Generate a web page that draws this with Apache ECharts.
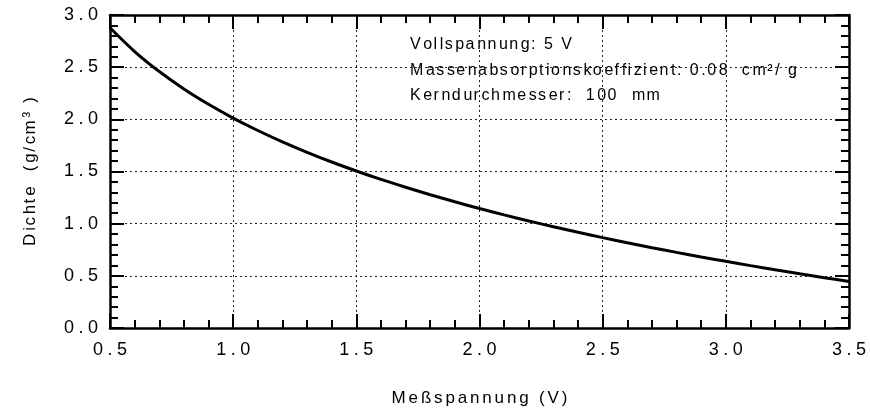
<!DOCTYPE html>
<html>
<head>
<meta charset="utf-8">
<script src="https://cdn.jsdelivr.net/npm/echarts@6/dist/echarts.min.js"></script>
<style>
  html, body { margin: 0; padding: 0; background: #fff; }
  #chart { width: 870px; height: 416px; }
</style>
</head>
<body>
<div id="chart"></div>
<script>
// Daten
var spannung = [0.5, 0.6, 0.7, 0.8, 0.9, 1.0, 1.1, 1.2, 1.3, 1.4, 1.5, 1.6, 1.7, 1.8, 1.9, 2.0,
                2.1, 2.2, 2.3, 2.4, 2.5, 2.6, 2.7, 2.8, 2.9, 3.0, 3.1, 3.2, 3.3, 3.4, 3.5];
var dichte = [2.878, 2.650, 2.458, 2.291, 2.144, 2.012, 1.893, 1.784, 1.684, 1.591, 1.505, 1.424, 1.349,
              1.277, 1.210, 1.145, 1.084, 1.026, 0.971, 0.918, 0.866, 0.817, 0.770, 0.725, 0.681, 0.639,
              0.598, 0.558, 0.519, 0.482, 0.446];
var infoZeilen = ['Vollspannung: 5 V', 'Massenabsorptionskoeffizient: 0.08  cm²/ g', 'Kerndurchmesser:  100  mm'];
var xTitel = 'Meßspannung (V)';
var yTitel = 'Dichte  (g/cm³ )';

var chart = echarts.init(document.getElementById('chart'));
var font = 'Liberation Sans, Arial, sans-serif';

// Sperrschrift: Zeichen mit Hair-Spaces auseinanderziehen (n darf gebrochen sein)
function sperren(s, n) {
  var z = s.split('');
  var out = z[0];
  for (var i = 1; i < z.length; i++) {
    var k = Math.round(i * n) - Math.round((i - 1) * n);
    out += new Array(k + 1).join('\u200A') + z[i];
  }
  return out;
}

var punkte = spannung.map(function (u, i) { return [u, dichte[i]]; });

// gemeinsame Achsen-Einstellungen (Rahmen mit Ticks nach innen)
function achse(extra) {
  var a = {
    type: 'value',
    interval: 0.5,
    axisLine: { show: true, onZero: false, lineStyle: { color: '#000', width: 2.5 } },
    axisTick: { show: true, inside: true, length: 14, lineStyle: { color: '#000', width: 2 } },
    minorTick: { show: true, splitNumber: 5, length: 8, lineStyle: { color: '#000', width: 2 } },
    splitLine: { show: false },
    axisLabel: { show: false }
  };
  for (var k in extra) a[k] = extra[k];
  return a;
}

var tickLabel = {
  show: true, fontFamily: font, fontSize: 18, color: '#000',
  formatter: function (v) { return sperren(v.toFixed(1), 3); }
};

var option = {
  animation: false,
  backgroundColor: '#fff',
  grid: { left: 110, right: 21, top: 15, bottom: 88 },
  xAxis: [
    achse({
      position: 'bottom', min: 0.5, max: 3.5,
      name: sperren(xTitel, 2), nameLocation: 'middle', nameGap: 62,
      nameTextStyle: { fontFamily: font, fontSize: 17, color: '#000' },
      splitLine: { show: true, lineStyle: { color: '#222', type: [2, 3], width: 1 } },
      axisLabel: Object.assign({ margin: 13 }, tickLabel)
    }),
    achse({ position: 'top', min: 0.5, max: 3.5 })
  ],
  yAxis: [
    achse({
      position: 'left', min: 0, max: 3,
      name: sperren(yTitel, 1.5), nameLocation: 'middle', nameGap: 71,
      nameTextStyle: { fontFamily: font, fontSize: 17, color: '#000' },
      splitLine: { show: true, lineStyle: { color: '#222', type: [2, 3], width: 1 } },
      axisLabel: Object.assign({ margin: 12 }, tickLabel)
    }),
    achse({ position: 'right', min: 0, max: 3 })
  ],
  graphic: infoZeilen.map(function (t, i) {
    return {
      type: 'text', left: 410, top: [37, 63, 88][i],
      style: { text: sperren(t, 1.5), fill: '#000', font: '16px ' + font }
    };
  }),
  series: [{
    type: 'line',
    xAxisIndex: 0, yAxisIndex: 0,
    data: punkte,
    smooth: 0.3,
    showSymbol: false,
    lineStyle: { color: '#000', width: 3 }
  }]
};

chart.setOption(option);
</script>
</body>
</html>
